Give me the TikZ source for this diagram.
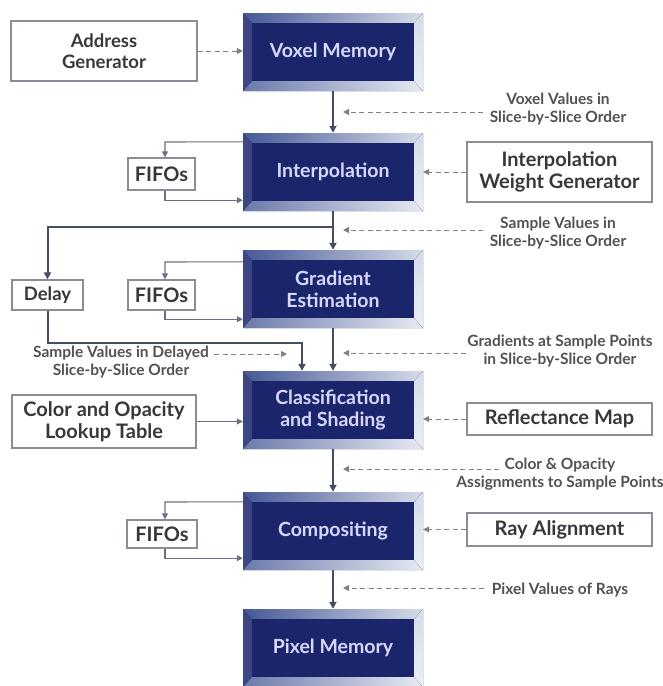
\documentclass[tikz,border=0pt]{standalone}
\usepackage{fontspec}
\setmainfont{Lato}
\usetikzlibrary{arrows.meta,calc}
\definecolor{navy}{RGB}{26,37,108}
\definecolor{bevdark}{RGB}{70,88,150}
\definecolor{bevlight}{RGB}{214,220,232}
\definecolor{linecol}{RGB}{70,76,100}
\definecolor{boxline}{RGB}{140,140,150}
\begin{document}
\begin{tikzpicture}[x=1pt,y=-1pt,
  block/.style={minimum width=180pt, minimum height=78pt, inner sep=0pt, align=center,
    text=white!85!blue, font=\bfseries\fontsize{19.5}{22}\selectfont, fill=navy,
    path picture={
      \fill[left color=bevdark, right color=bevlight]
        (path picture bounding box.north west) -- (path picture bounding box.north east)
        -- ([shift={(-9pt,-10pt)}]path picture bounding box.north east)
        -- ([shift={(9pt,-10pt)}]path picture bounding box.north west) -- cycle;
      \fill[left color=bevdark!80, right color=bevlight!60]
        (path picture bounding box.south west) -- (path picture bounding box.south east)
        -- ([shift={(-9pt,10pt)}]path picture bounding box.south east)
        -- ([shift={(9pt,10pt)}]path picture bounding box.south west) -- cycle;
      \fill[top color=bevlight, bottom color=bevlight!50]
        (path picture bounding box.north east) -- (path picture bounding box.south east)
        -- ([shift={(-9pt,10pt)}]path picture bounding box.south east)
        -- ([shift={(-9pt,-10pt)}]path picture bounding box.north east) -- cycle;
      \fill[navy!85!white]
        (path picture bounding box.north west) -- (path picture bounding box.south west)
        -- ([shift={(9pt,10pt)}]path picture bounding box.south west)
        -- ([shift={(9pt,-10pt)}]path picture bounding box.north west) -- cycle;
      \fill[navy] ([shift={(9pt,-10pt)}]path picture bounding box.north west)
        rectangle ([shift={(-9pt,10pt)}]path picture bounding box.south east);
    }},
  sidebox/.style={draw=boxline, line width=1.3pt, fill=white, text=black!78,
    font=\bfseries\fontsize{20}{22}\selectfont, align=center, inner sep=0pt},
  smallbox/.style={sidebox, font=\bfseries\fontsize{18.5}{21}\selectfont},
  lbl/.style={text=black!68, font=\bfseries\fontsize{15.5}{17.5}\selectfont, align=center, inner sep=0pt},
  flow/.style={draw=linecol, line width=2pt, -{Triangle[length=7pt,width=7pt]}},
  loopline/.style={draw=linecol!80, line width=1.1pt, -{Triangle[length=6pt,width=6pt]}},
  dsh/.style={draw=gray, line width=1pt, dash pattern=on 5pt off 3.5pt, -{Triangle[length=6pt,width=6pt]}}
]
\useasboundingbox (0,0) rectangle (663,686);
\fill[white] (0,0) rectangle (663,686);

% main blocks
\node[block] (vox) at (333,52) {Voxel Memory};
\node[block] (interp) at (333,172) {Interpolation};
\node[block] (grad) at (333,289) {Gradient\\Estimation};
\node[block] (cls) at (333,410) {Classification\\and Shading};
\node[block] (comp) at (333,531) {Compositing};
\node[block] (pix) at (333,648) {Pixel Memory};

% side boxes
\node[smallbox, minimum width=186pt, minimum height=60pt] (addr) at (104,51) {Address\\Generator};
\node[sidebox, minimum width=67pt, minimum height=32pt] (ififo) at (161.5,174) {FIFOs};
\node[sidebox, minimum width=185pt, minimum height=60pt] (iwg) at (559.5,172) {Interpolation\\Weight Generator};
\node[smallbox, minimum width=71pt, minimum height=30pt] (delay) at (47.5,295) {Delay};
\node[sidebox, minimum width=67pt, minimum height=30pt] (gfifo) at (161.5,295) {FIFOs};
\node[sidebox, minimum width=184pt, minimum height=53pt] (lut) at (104,421.5) {Color and Opacity\\Lookup Table};
\node[sidebox, minimum width=185pt, minimum height=32pt] (refl) at (559.5,419) {Reflectance Map};
\node[sidebox, minimum width=70pt, minimum height=28pt] (cfifo) at (162,534) {FIFOs};
\node[sidebox, minimum width=185pt, minimum height=33pt] (ray) at (559.5,529.5) {Ray Alignment};

% labels
\node[lbl] (vvl) at (558,109) {Voxel Values in\\Slice-by-Slice Order};
\node[lbl] (svl) at (558,233) {Sample Values in\\Slice-by-Slice Order};
\node[lbl] (gsl) at (560,351) {Gradients at Sample Points\\in Slice-by-Slice Order};
\node[lbl] (dly) at (121,362) {Sample Values in Delayed\\Slice-by-Slice Order};
\node[lbl] (col) at (560,474) {Color \& Opacity\\Assignments to Sample Points};
\node[lbl] (pvr) at (560,590) {Pixel Values of Rays};

% main flow
\draw[flow] (vox) -- (interp);
\coordinate (br) at (333,227);
\draw[flow] (interp) -- (grad);
\draw[flow] (br) -| (delay.north);
\draw[flow] (grad) -- (cls);
\coordinate (dj) at (302,343);
\draw[flow] (delay.south) |- (dj) -- (cls.north -| dj);
\draw[flow] (cls) -- (comp);
\draw[flow] (comp) -- (pix);

% FIFO loops
\coordinate (il) at (165,142);
\draw[loopline] ([yshift=-9pt]interp.north west) -- (il) -- (il |- ififo.north);
\draw[loopline] (ififo.south -| il) |- ([yshift=11pt]interp.south west);
\coordinate (gl) at (165,262);
\draw[loopline] ([yshift=-12pt]grad.north west) -- (gl) -- (gl |- gfifo.north);
\draw[loopline] (gfifo.south -| gl) |- ([yshift=9pt]grad.south west);
\coordinate (cl) at (165,502);
\draw[loopline] ([yshift=-10pt]comp.north west) -- (cl) -- (cl |- cfifo.north);
\draw[loopline] (cfifo.south -| cl) |- ([yshift=12pt]comp.south west);

% side inputs
\draw[dsh] (addr.east) -- (addr.east -| vox.west);
\draw[dsh] (iwg.west) -- (iwg.west -| interp.east);
\draw[loopline] (lut.east) -- (lut.east -| cls.west);
\draw[dsh] (refl.west) -- (refl.west -| cls.east);
\draw[dsh] (ray.west) -- (ray.west -| comp.east);

% label arrows
\coordinate (v1s) at (483,112); \coordinate (v1e) at (343,112);
\draw[dsh] (v1s) -- (v1e);
\coordinate (s1s) at (483,230); \coordinate (s1e) at (343,230);
\draw[dsh] (s1s) -- (s1e);
\coordinate (g1s) at (466,353); \coordinate (g1e) at (343,353);
\draw[dsh] (g1s) -- (g1e);
\coordinate (d1s) at (214,354); \coordinate (d1e) at (287,354);
\draw[dsh] (d1s) -- (d1e);
\coordinate (c1s) at (499,469); \coordinate (c1e) at (343,469);
\draw[dsh] (c1s) -- (c1e);
\coordinate (p1s) at (484,588); \coordinate (p1e) at (343,588);
\draw[dsh] (p1s) -- (p1e);
\end{tikzpicture}
\end{document}
